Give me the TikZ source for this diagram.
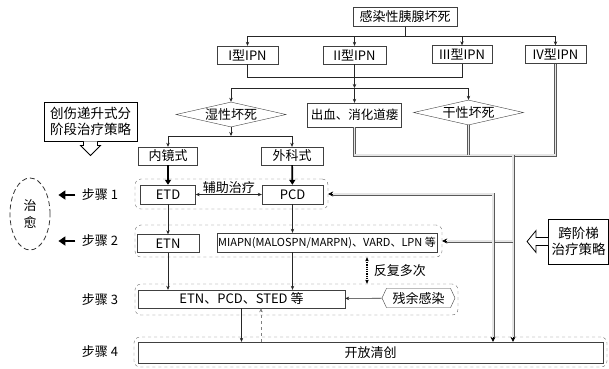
\documentclass[tikz,border=0pt]{standalone}
\usepackage{fontspec}
\setmainfont{Noto Sans CJK SC}
\usetikzlibrary{shapes,arrows.meta,positioning,calc}
\tikzset{
    stage/.style = {rectangle, minimum width=60pt, minimum height=18pt, inner sep=1pt, text centered, draw=black!75, font=\fontsize{13}{15}\selectfont},
    choice/.style = {diamond, aspect=4.4, minimum width=110pt, minimum height=25pt, inner sep=0pt, text centered, draw=black!75, font=\fontsize{13}{15}\selectfont},
    strategy/.style = {rectangle, inner sep=1pt, align=center, draw=black, line width=0.9pt, font=\fontsize{13.5}{16.5}\selectfont},
    phase/.style = {rectangle, rounded corners=6pt, dashed, draw=black!60, inner sep=0pt},
    residue/.style = {signal, signal to=west and east, signal pointer angle=130, minimum width=73pt, minimum height=19pt, inner sep=1pt, draw=black!75, font=\fontsize{13}{15}\selectfont},
    healed/.style = {ellipse, draw=black!80, line width=0.8pt, dash pattern=on 5pt off 3pt, minimum width=40pt, minimum height=72pt, align=center, font=\fontsize{13}{17}\selectfont},
    steptext/.style = {font=\fontsize{13}{15}\selectfont},
    link/.style = {draw=black!85, line width=0.55pt},
    heavy/.style = {draw=black, line width=1.7pt, -{Triangle[length=5pt,width=6pt]}},
    trunk/.style = {draw=black!65, line width=3pt, postaction={draw=black!10, line width=1.1pt}},
    tip/.style = {draw=black, line width=0.6pt, -{Stealth[length=5pt,width=5pt]}},
    hollow/.style = {draw=black, line width=0.8pt, fill=white},
    fat/.style = {draw=black, line width=2.8pt, -{Triangle[length=7pt,width=9pt]}}
}

\begin{document}
\begin{tikzpicture}[x=1pt, y=-1pt, >={Stealth[length=4pt,width=3.5pt]}]
    \useasboundingbox (0,0) rectangle (609,368);

    \node [stage, minimum width=104pt, minimum height=19pt] (ipn) at (405,17) {感染性胰腺坏死};
    \node [stage, minimum width=61pt] (type1) at (247.5,55) {I型IPN};
    \node [stage, minimum width=63pt] (type2) at (354.5,55) {II型IPN};
    \node [stage, minimum width=60pt] (type3) at (462,54.5) {III型IPN};
    \node [stage, minimum width=61pt] (type4) at (555.5,54.5) {IV型IPN};

    \node [choice] (wet) at (231,114.5) {湿性坏死};
    \node [stage, minimum width=94pt, minimum height=24pt, font=\fontsize{12.5}{15}\selectfont] (bleed) at (354.5,115) {出血、消化道瘘};
    \node [choice] (dry) at (468.5,112.5) {干性坏死};

    \node [stage, minimum width=59pt] (endo) at (168,156) {内镜式};
    \node [stage, minimum width=62pt] (surg) at (292,156) {外科式};

    \node [strategy, minimum width=93pt, minimum height=39pt] (ladder) at (90.5,121.5) {创伤递升式分\\阶段治疗策略};
    \node [strategy, minimum width=60pt, minimum height=45pt] (cross) at (578.5,241.5) {跨阶梯\\治疗策略};

    \node [phase, minimum width=193pt, minimum height=30pt] (phase1) at (231.5,194) {};
    \node [phase, minimum width=307pt, minimum height=32pt] (phase2) at (288.5,241) {};
    \node [phase, minimum width=323pt, minimum height=31pt] (phase3) at (296.5,299.5) {};
    \node [phase, minimum width=473pt, minimum height=30pt] (phase4) at (370.5,352) {};

    \node [stage, minimum width=55pt, minimum height=19pt] (etd) at (168,194.5) {ETD};
    \node [stage, minimum width=61pt, minimum height=19pt] (pcd) at (292.5,194.5) {PCD};
    \node [stage, minimum width=62pt] (etn) at (168,243.5) {ETN};
    \node [stage, minimum width=220pt, minimum height=19pt, font=\fontsize{11}{13}\selectfont] (miapn) at (327,242.5) {MIAPN(MALOSPN/MARPN)、VARD、LPN 等};
    \node [stage, minimum width=207pt] (combo) at (241.5,299) {ETN、PCD、STED 等};
    \node [residue] (residual) at (418.5,298) {残余感染};
    \node [stage, minimum width=465pt, minimum height=21pt] (open) at (370.5,352.5) {开放清创};

    \node [healed] (cure) at (30,214) {治\\愈};
    \node [steptext] (step1) at (100,195) {步骤 1};
    \node [steptext] (step2) at (100,241) {步骤 2};
    \node [steptext] (step3) at (100,300) {步骤 3};
    \node [steptext] (step4) at (100,352) {步骤 4};

    \coordinate (bus) at (405,36);
    \coordinate (merge) at (354.5,77);
    \coordinate (split) at (354.5,88);
    \coordinate (fork) at (231,136);
    \coordinate (join) at (513,155);
    \coordinate (loop) at (493,194);
    \coordinate (again) at (367,0);
    \coordinate (back) at ($(combo.south)+(19.5,0)$);

    \draw [link] (ipn) -- (bus);
    \foreach \t in {type1,type2,type3,type4}
        \draw [link, ->] (bus) -| (\t);
    \draw [link] (type1) |- (merge);
    \draw [link] (type3) |- (merge);
    \draw [link, ->] (type2) -- (split);
    \draw [link, ->] (split) -| (wet);
    \draw [link, ->] (split) -- (bleed);
    \draw [link, ->] (split) -| (dry);
    \draw [link, ->] (wet) -- (fork);
    \draw [link, ->] (fork) -| (endo);
    \draw [link, ->] (fork) -| (surg);

    \draw [hollow] (ladder.south) ++(-7,0) -- ++(0,4) -- ++(-3,0) -- ++(10,10) -- ++(10,-10) -- ++(-3,0) -- ++(0,-4);
    \draw [hollow] (cross.west) ++(0,-4) -- ++(-12,0) -- ++(0,-7) -- ++(-9,11) -- ++(9,11) -- ++(0,-7) -- ++(12,0);

    \draw [heavy] (endo) -- (etd);
    \draw [heavy] (surg) -- (pcd);
    \draw [link, <->] (etd) -- node [above=0pt, inner sep=0.5pt, font=\fontsize{13}{15}\selectfont] {辅助治疗} (pcd);
    \draw [link, ->] (etd) -- (etn);
    \draw [link, ->] (etn) -- (etn |- combo.north);
    \draw [link, ->] (pcd) -- (pcd |- miapn.north);
    \draw [link, ->] (pcd |- miapn.south) -- (pcd |- combo.north);
    \draw [link, ->] (residual) -- (combo);
    \draw [link, ->] (combo.south) -- (combo.south |- open.north);
    \draw [link, dashed, draw=black!50, ->] (back |- open.north) -- (back);
    \draw [<->, line width=1.3pt, densely dotted] (phase2.south -| again) -- node [right=3pt, font=\fontsize{13}{15}\selectfont] {反复多次} (phase3.north -| again);

    \draw [trunk] (bleed) |- (join -| type4) -- (type4);
    \draw [trunk] (dry) -- (dry |- join);
    \draw [trunk] (join) -- (join |- phase4.north);
    \draw [tip] (join |- phase4.north) -- (join |- open.north);
    \draw [trunk] (join |- phase2.east) -- ($(phase2.east)+(5,0)$);
    \draw [tip] ($(phase2.east)+(5,0)$) -- (phase2.east);
    \draw [trunk] ($(phase1.east)+(5,0)$) -| (loop |- phase4.north);
    \draw [tip] ($(phase1.east)+(5,0)$) -- (phase1.east);
    \draw [tip] (loop |- phase4.north) -- (loop |- open.north);

    \draw [fat, shorten <=3pt, shorten >=8pt] (step1) -- (cure.east |- step1);
    \draw [fat, shorten <=3pt, shorten >=8pt] (step2) -- (cure.east |- step2);
\end{tikzpicture}
\end{document}
